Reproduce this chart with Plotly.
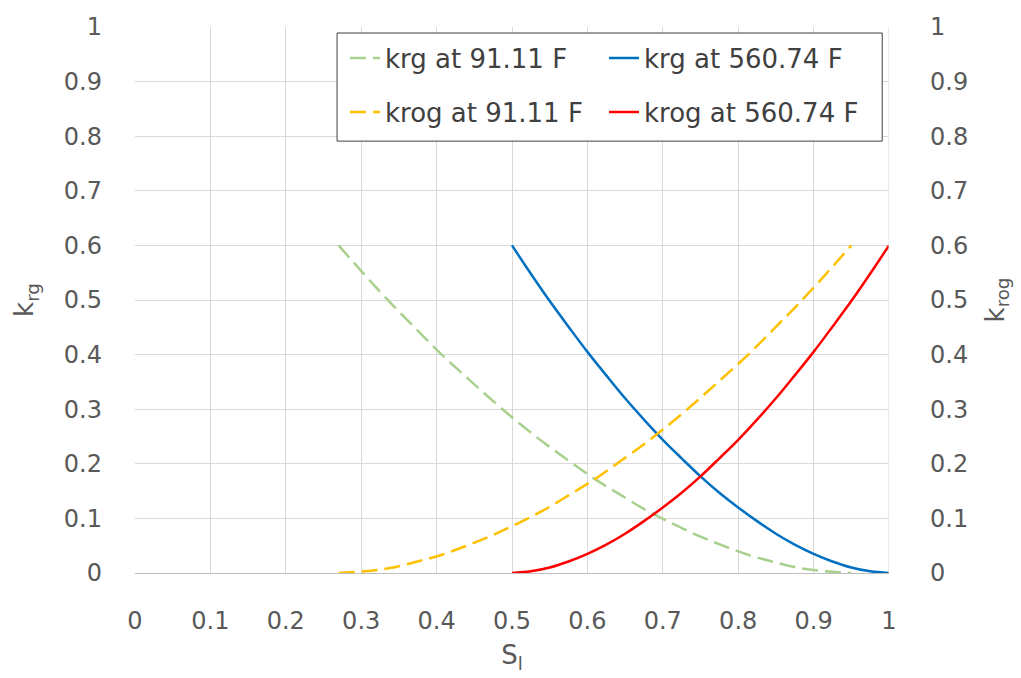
import plotly.graph_objects as go

# Liquid saturation values
S_low = [0.270, 0.304, 0.338, 0.372, 0.406, 0.440, 0.474, 0.508, 0.542, 0.576, 0.610,
         0.644, 0.678, 0.712, 0.746, 0.780, 0.814, 0.848, 0.882, 0.916, 0.950]
S_high = [0.500, 0.525, 0.550, 0.575, 0.600, 0.625, 0.650, 0.675, 0.700, 0.725, 0.750,
          0.775, 0.800, 0.825, 0.850, 0.875, 0.900, 0.925, 0.950, 0.975, 1.000]

krg_91 = [0.600, 0.547, 0.496, 0.448, 0.401, 0.358, 0.316, 0.276, 0.239, 0.205, 0.172,
          0.143, 0.115, 0.091, 0.069, 0.050, 0.033, 0.020, 0.009, 0.003, 0.000]
krog_91 = [0.000, 0.003, 0.009, 0.020, 0.033, 0.050, 0.069, 0.091, 0.115, 0.143, 0.172,
           0.205, 0.239, 0.276, 0.316, 0.358, 0.401, 0.448, 0.496, 0.547, 0.600]
krg_560 = [0.600, 0.548, 0.498, 0.451, 0.405, 0.362, 0.320, 0.281, 0.244, 0.210, 0.177,
           0.147, 0.120, 0.095, 0.072, 0.052, 0.035, 0.021, 0.010, 0.003, 0.000]
krog_560 = [0.000, 0.003, 0.010, 0.021, 0.035, 0.052, 0.072, 0.095, 0.120, 0.147, 0.177,
            0.210, 0.244, 0.281, 0.320, 0.362, 0.405, 0.451, 0.498, 0.548, 0.600]

x_ticks = [0, 0.1, 0.2, 0.3, 0.4, 0.5, 0.6, 0.7, 0.8, 0.9, 1]
x_tick_labels = ["0", "0.1", "0.2", "0.3", "0.4", "0.5", "0.6", "0.7", "0.8", "0.9", "1"]
y_ticks = [0, 0.1, 0.2, 0.3, 0.4, 0.5, 0.6, 0.7, 0.8, 0.9, 1]
y_tick_labels = ["0", "0.1", "0.2", "0.3", "0.4", "0.5", "0.6", "0.7", "0.8", "0.9", "1"]

FONT = "DejaVu Sans"
TICK_COLOR = "#595959"
TEXT_COLOR = "#404040"
GRID = "#d9d9d9"
TICK_SIZE = 24
LEG_SIZE = 26
TITLE_SIZE = 26

fig = go.Figure()
fig.add_trace(go.Scatter(x=S_low, y=krg_91, mode="lines", name="krg at 91.11 F",
                         line=dict(color="#A9D18E", width=2.5, dash="16px,7px", shape="spline"),
                         legend="legend", yaxis="y"))
fig.add_trace(go.Scatter(x=S_high, y=krg_560, mode="lines", name="krg at 560.74 F",
                         line=dict(color="#0070C0", width=2.5, shape="spline"),
                         legend="legend2", yaxis="y"))
fig.add_trace(go.Scatter(x=S_low, y=krog_91, mode="lines", name="krog at 91.11 F",
                         line=dict(color="#FFC000", width=2.5, dash="16px,7px", shape="spline"),
                         legend="legend3", yaxis="y2"))
fig.add_trace(go.Scatter(x=S_high, y=krog_560, mode="lines", name="krog at 560.74 F",
                         line=dict(color="#FF0000", width=2.5, shape="spline"),
                         legend="legend4", yaxis="y2"))

leg_common = dict(bgcolor="rgba(0,0,0,0)", borderwidth=0,
                  font=dict(family=FONT, size=LEG_SIZE, color=TEXT_COLOR),
                  xanchor="left", yanchor="middle", orientation="h")

fig.update_layout(
    width=1021, height=678,
    margin=dict(l=135, r=132, t=27, b=105),
    paper_bgcolor="white", plot_bgcolor="white",
    font=dict(family=FONT, color=TICK_COLOR),
    showlegend=True,
    legend=dict(x=0.2785, y=0.943, **leg_common),
    legend2=dict(x=0.622, y=0.943, **leg_common),
    legend3=dict(x=0.2785, y=0.844, **leg_common),
    legend4=dict(x=0.622, y=0.844, **leg_common),
    xaxis=dict(range=[0, 1], tickvals=x_ticks, ticktext=x_tick_labels,
               showgrid=True, gridcolor=GRID, gridwidth=1, zeroline=False,
               showline=True, linecolor="#bfbfbf", linewidth=1,
               ticks="", ticklabelstandoff=26,
               tickfont=dict(family=FONT, size=TICK_SIZE, color=TICK_COLOR),
               title=dict(text="S<sub>l</sub>", standoff=12,
                          font=dict(family=FONT, size=TITLE_SIZE, color=TICK_COLOR))),
    yaxis=dict(range=[0, 1], tickvals=y_ticks, ticktext=y_tick_labels,
               showgrid=True, gridcolor=GRID, gridwidth=1, zeroline=False,
               showline=False, ticks="", ticklabelstandoff=32,
               tickfont=dict(family=FONT, size=TICK_SIZE, color=TICK_COLOR),
               title=dict(text="k<sub>rg</sub>", standoff=22,
                          font=dict(family=FONT, size=TITLE_SIZE, color=TICK_COLOR))),
    yaxis2=dict(range=[0, 1], tickvals=y_ticks, ticktext=y_tick_labels,
                overlaying="y", side="right", showgrid=False, zeroline=False,
                showline=False, ticks="", ticklabelstandoff=40,
                tickfont=dict(family=FONT, size=TICK_SIZE, color=TICK_COLOR),
                title=dict(text="k<sub>rog</sub>", standoff=18,
                           font=dict(family=FONT, size=TITLE_SIZE, color=TICK_COLOR))),
    shapes=[dict(type="rect", xref="paper", yref="paper",
                 x0=0.268, x1=0.991, y0=0.791, y1=0.989,
                 line=dict(color="#404040", width=1), fillcolor="white",
                 layer="above")],
)
fig.add_shape(type="line", xref="x", yref="paper", x0=1, x1=1, y0=0, y1=1,
              line=dict(color=GRID, width=1))

fig.write_html("out.html")
